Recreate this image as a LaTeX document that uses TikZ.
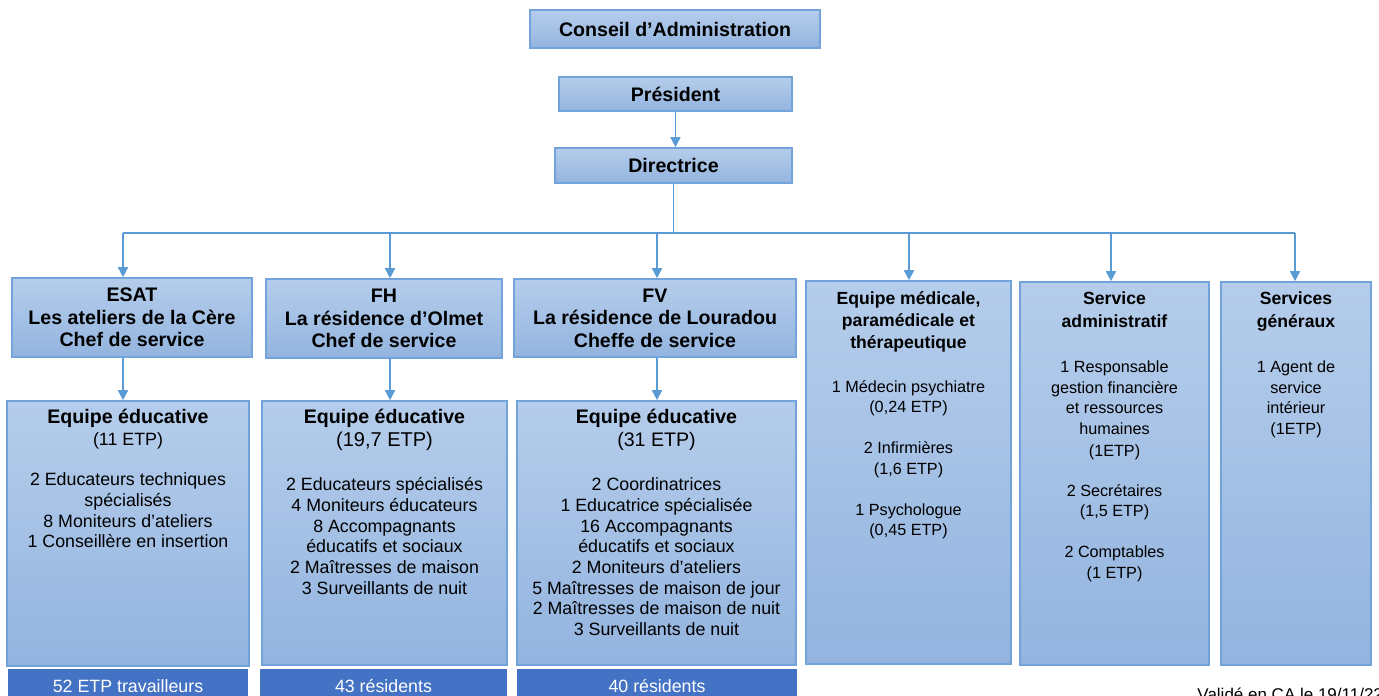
\documentclass[tikz,border=0pt]{standalone}
\usepackage{fontspec}
\setmainfont{Liberation Sans}
\usetikzlibrary{arrows.meta,positioning}
\definecolor{boxtop}{HTML}{B5CDEB}
\definecolor{boxbottom}{HTML}{93B4DF}
\definecolor{boxline}{HTML}{72A3DB}
\definecolor{arrowblue}{HTML}{5B9BD5}
\definecolor{bardark}{HTML}{4472C4}
\tikzset{
  orgbox/.style={draw=boxline,line width=0.8pt,top color=boxtop,bottom color=boxbottom,align=center,inner sep=0pt,font=\bfseries\fontsize{9.8}{11.3}\selectfont},
  lefttxt/.style={align=center,inner sep=0pt,font=\fontsize{8.9}{10.35}\selectfont},
  righttxt/.style={align=center,inner sep=0pt,font=\fontsize{8.1}{10.25}\selectfont},
  bar/.style={fill=bardark,text=white,inner sep=0pt,minimum height=17pt,font=\fontsize{8.9}{10.35}\selectfont},
  arr/.style={-{Triangle[length=5pt,width=5pt]},line width=0.8pt,color=arrowblue},
  bus/.style={line width=0.8pt,color=arrowblue}
}
\newcommand{\teamhd}{\bfseries\fontsize{9.8}{11.3}\selectfont}
\newcommand{\sidehd}{\bfseries\fontsize{8.8}{11}\selectfont}

\begin{document}
\begin{tikzpicture}[x=0.5pt,y=-0.5pt]
  \useasboundingbox (0,0) rectangle (1379,695);
  % direction
  \node[orgbox,minimum width=145pt,minimum height=19pt] (ca) at (675,29) {Conseil d’Administration};
  \node[orgbox,minimum width=116.5pt,minimum height=17pt] (pres) at (675.5,94) {Président};
  \node[orgbox,minimum width=118.5pt,minimum height=17.5pt] (dir) at (673.5,165.5) {Directrice};
  \draw[arr] (pres.south) -- (pres.south |- dir.north);

  % services
  \node[orgbox,minimum width=120pt,minimum height=39.5pt] (esat) at (132,317.5)
    {ESAT\\Les ateliers de la Cère\\Chef de service};
  \node[orgbox,minimum width=118pt,minimum height=39.5pt] (fh) at (384,318.5)
    {FH\\La résidence d’Olmet\\Chef de service};
  \node[orgbox,minimum width=141pt,minimum height=39pt] (fv) at (655,318)
    {FV\\La résidence de Louradou\\Cheffe de service};
  \node[orgbox,minimum width=102.5pt,minimum height=191.5pt] (med) at (908.5,472.5) {};
  \node[orgbox,minimum width=94.5pt,minimum height=191.5pt] (adm) at (1114.5,473.5) {};
  \node[orgbox,minimum width=75pt,minimum height=191.5pt] (gen) at (1296,473.5) {};

  \node[righttxt,below=5.3pt of med.north] (medtxt)
    {{\sidehd Equipe médicale,}\\[0.75pt]{\sidehd paramédicale et}\\[0.75pt]{\sidehd thérapeutique}\\[11.75pt]
     1 Médecin psychiatre\\(0,24 ETP)\\[10.25pt]2 Infirmières\\(1,6 ETP)\\[10.25pt]1 Psychologue\\(0,45 ETP)};
  \node[righttxt,below=5.3pt of adm.north] (admtxt)
    {{\sidehd Service}\\[1.25pt]{\sidehd administratif}\\[12.25pt]
     1 Responsable\\gestion financière\\et ressources\\humaines\\[0.75pt](1ETP)\\[9.75pt]
     2 Secrétaires\\(1,5 ETP)\\[10.25pt]2 Comptables\\(1 ETP)};
  \node[righttxt,below=5.3pt of gen.north] (gentxt)
    {{\sidehd Services}\\[1.25pt]{\sidehd généraux}\\[12.25pt]
     1 Agent de\\service\\intérieur\\(1ETP)};

  % bus from the director
  \coordinate (b1) at (123,233);
  \coordinate (b2) at (390,233);
  \coordinate (b3) at (657,233);
  \coordinate (b4) at (909,233);
  \coordinate (b5) at (1111,233);
  \coordinate (b6) at (1295,233);
  \draw[bus] (dir.south) -- (dir.south |- b1);
  \draw[bus] (b1) -- (b6);
  \foreach \b/\n in {b1/esat,b2/fh,b3/fv,b4/med,b5/adm,b6/gen}
    \draw[arr] (\b) -- (\b |- \n.north);

  % educational teams
  \node[orgbox,minimum width=121pt,minimum height=132.5pt] (esatteam) at (128,533.5) {};
  \node[orgbox,minimum width=122.5pt,minimum height=132pt] (fhteam) at (384.5,533) {};
  \node[orgbox,minimum width=139.5pt,minimum height=132pt] (fvteam) at (656.5,533) {};
  \foreach \b/\n/\t in {b1/esat/esatteam,b2/fh/fhteam,b3/fv/fvteam}
    \draw[arr] (\b |- \n.south) -- (\b |- \t.north);

  \node[lefttxt,below=4.4pt of esatteam.north] (esattxt)
    {{\teamhd Equipe éducative}\\[0.65pt](11 ETP)\\[9.65pt]
     2 Educateurs techniques\\spécialisés\\8 Moniteurs d’ateliers\\1 Conseillère en insertion};
  \node[lefttxt,below=4.4pt of fhteam.north] (fhtxt)
    {{\teamhd Equipe éducative}\\[1.15pt]{\fontsize{10}{11}\selectfont(19,7 ETP)}\\[11.65pt]
     2 Educateurs spécialisés\\4 Moniteurs éducateurs\\8 Accompagnants\\éducatifs et sociaux\\
     2 Maîtresses de maison\\3 Surveillants de nuit};
  \node[lefttxt,below=4.4pt of fvteam.north] (fvtxt)
    {{\teamhd Equipe éducative}\\[1.15pt]{\fontsize{9.8}{11}\selectfont(31 ETP)}\\[11.65pt]
     2 Coordinatrices\\1 Educatrice spécialisée\\16 Accompagnants\\éducatifs et sociaux\\
     2 Moniteurs d’ateliers\\5 Maîtresses de maison de jour\\2 Maîtresses de maison de nuit\\3 Surveillants de nuit};

  % totals
  \node[bar,minimum width=120pt] (esatbar) at (128,686) {52 ETP travailleurs};
  \node[bar,minimum width=123.5pt] (fhbar) at (383.5,686) {43 résidents};
  \node[bar,minimum width=140pt] (fvbar) at (657,686) {40 résidents};

  \node[anchor=base west,inner sep=0pt,font=\fontsize{8.5}{10}\selectfont] (valid) at (1197,700) {Validé en CA le 19/11/22};
\end{tikzpicture}
\end{document}
